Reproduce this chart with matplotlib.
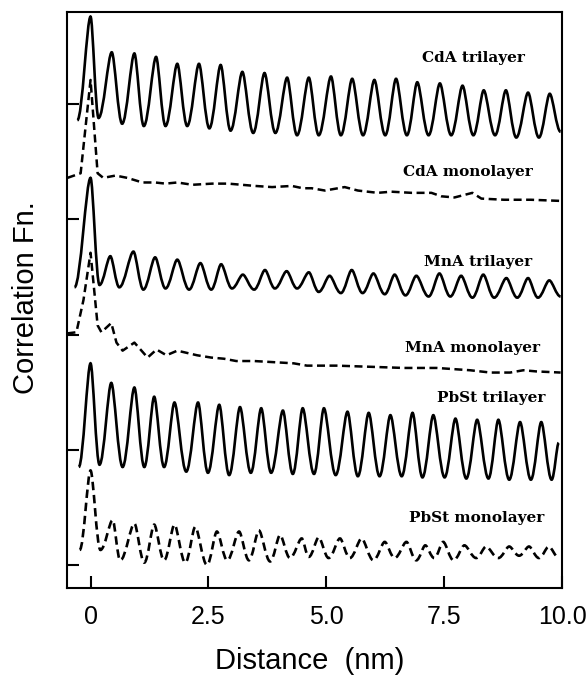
import matplotlib
matplotlib.use("Agg")
import matplotlib.pyplot as plt
from matplotlib.path import Path
from matplotlib.patches import PathPatch

# --- Data (distance in nm, offset correlation) ---
CDA_TRI_X = [-0.28, 0.00, 0.17, 0.45, 0.67, 0.93, 1.13, 1.39, 1.59, 1.84, 2.05, 2.30, 2.52, 2.76,
             2.97, 3.22, 3.45, 3.69, 3.92, 4.17, 4.38, 4.63, 4.84, 5.10, 5.31, 5.55, 5.78, 6.02,
             6.25, 6.48, 6.71, 6.93, 7.17, 7.41, 7.65, 7.89, 8.12, 8.34, 8.58, 8.81, 9.03, 9.28,
             9.51, 9.74, 9.97]
CDA_TRI_Y = [3.86, 4.76, 3.88, 4.45, 3.83, 4.44, 3.81, 4.41, 3.81, 4.35, 3.81, 4.35, 3.79, 4.34,
             3.77, 4.28, 3.75, 4.27, 3.75, 4.23, 3.73, 4.23, 3.73, 4.24, 3.73, 4.22, 3.73, 4.21,
             3.73, 4.22, 3.73, 4.19, 3.73, 4.18, 3.73, 4.16, 3.73, 4.12, 3.73, 4.12, 3.71, 4.10,
             3.71, 4.09, 3.76]

CDA_MONO_X = [-0.49, -0.21, 0.00, 0.15, 0.27, 0.53, 0.78, 1.10, 1.37, 1.59, 1.84, 2.16, 2.58,
              2.92, 3.49, 3.85, 4.27, 4.50, 4.69, 4.97, 5.39, 5.67, 6.09, 6.38, 6.81, 7.23, 7.44,
              7.72, 8.10, 8.29, 8.77, 9.34, 9.97]
CDA_MONO_Y = [3.36, 3.40, 4.21, 3.40, 3.36, 3.38, 3.36, 3.32, 3.32, 3.31, 3.32, 3.30, 3.31,
              3.31, 3.29, 3.28, 3.29, 3.27, 3.27, 3.25, 3.28, 3.25, 3.23, 3.24, 3.23, 3.23, 3.20,
              3.19, 3.23, 3.18, 3.17, 3.17, 3.16]

MNA_TRI_X = [-0.34, 0.00, 0.19, 0.42, 0.61, 0.91, 1.12, 1.37, 1.59, 1.84, 2.09, 2.33, 2.56, 2.77,
             3.00, 3.23, 3.47, 3.70, 3.91, 4.16, 4.38, 4.63, 4.84, 5.07, 5.31, 5.54, 5.77, 6.00,
             6.24, 6.45, 6.68, 6.91, 7.17, 7.40, 7.63, 7.86, 8.10, 8.33, 8.56, 8.82, 9.05, 9.28,
             9.49, 9.73, 9.97]
MNA_TRI_Y = [2.41, 3.36, 2.43, 2.68, 2.41, 2.72, 2.39, 2.67, 2.40, 2.65, 2.39, 2.62, 2.39, 2.61,
             2.40, 2.52, 2.39, 2.56, 2.40, 2.55, 2.40, 2.54, 2.37, 2.51, 2.36, 2.56, 2.36, 2.53,
             2.35, 2.52, 2.34, 2.51, 2.33, 2.53, 2.33, 2.51, 2.32, 2.52, 2.32, 2.49, 2.32, 2.49,
             2.32, 2.47, 2.33]

MNA_MONO_X = [-0.49, -0.30, -0.15, 0.00, 0.15, 0.23, 0.44, 0.55, 0.68, 0.93, 1.21, 1.40, 1.61,
              1.84, 2.05, 2.26, 2.56, 2.83, 3.09, 3.47, 3.89, 4.31, 4.59, 5.22, 5.94, 6.64, 7.34,
              8.05, 8.48, 8.90, 9.18, 9.45, 9.97]
MNA_MONO_Y = [2.01, 2.02, 2.30, 2.71, 2.08, 2.02, 2.10, 1.93, 1.86, 1.93, 1.80, 1.87, 1.82,
              1.86, 1.84, 1.82, 1.80, 1.79, 1.77, 1.77, 1.76, 1.75, 1.73, 1.73, 1.72, 1.71, 1.71,
              1.69, 1.67, 1.67, 1.69, 1.68, 1.67]

PBST_TRI_X = [-0.25, 0.00, 0.19, 0.44, 0.68, 0.93, 1.14, 1.35, 1.56, 1.78, 2.03, 2.28, 2.49, 2.73,
              2.94, 3.17, 3.40, 3.62, 3.83, 4.08, 4.29, 4.50, 4.74, 4.95, 5.20, 5.45, 5.67, 5.90,
              6.13, 6.36, 6.60, 6.83, 7.04, 7.27, 7.51, 7.74, 7.97, 8.20, 8.44, 8.65, 8.88, 9.11,
              9.34, 9.56, 9.78, 9.93]
PBST_TRI_Y = [0.85, 1.75, 0.87, 1.58, 0.85, 1.54, 0.85, 1.46, 0.85, 1.41, 0.81, 1.41, 0.80, 1.39,
              0.78, 1.37, 0.80, 1.36, 0.80, 1.34, 0.79, 1.36, 0.79, 1.36, 0.78, 1.33, 0.77, 1.32,
              0.77, 1.30, 0.77, 1.32, 0.76, 1.30, 0.76, 1.27, 0.75, 1.26, 0.75, 1.26, 0.74, 1.24,
              0.74, 1.24, 0.74, 1.06]

PBST_MONO_X = [-0.23, 0.00, 0.21, 0.47, 0.63, 0.93, 1.14, 1.35, 1.56, 1.78, 2.01, 2.22, 2.47,
               2.68, 2.90, 3.15, 3.36, 3.57, 3.81, 4.02, 4.23, 4.48, 4.63, 4.84, 5.05, 5.29, 5.50,
               5.75, 6.00, 6.24, 6.45, 6.70, 6.91, 7.10, 7.29, 7.48, 7.70, 7.93, 8.18, 8.39, 8.65,
               8.88, 9.09, 9.30, 9.51, 9.72, 9.94]
PBST_MONO_Y = [0.13, 0.82, 0.13, 0.39, 0.04, 0.36, 0.02, 0.35, 0.04, 0.35, 0.02, 0.33, 0.00,
               0.29, 0.04, 0.29, 0.04, 0.30, 0.03, 0.26, 0.06, 0.23, 0.07, 0.24, 0.06, 0.23, 0.06,
               0.23, 0.04, 0.20, 0.06, 0.20, 0.04, 0.17, 0.06, 0.20, 0.04, 0.17, 0.06, 0.16, 0.06,
               0.16, 0.08, 0.16, 0.06, 0.16, 0.06]

LABELS = ["CdA trilayer", "CdA monolayer", "MnA trilayer",
          "MnA monolayer", "PbSt trilayer", "PbSt monolayer"]
LABEL_X = [8.13, 8.01, 8.22, 8.11, 8.49, 8.18]
LABEL_Y = [4.40, 3.41, 2.63, 1.88, 1.45, 0.41]

X_TICKS = [0, 2.5, 5.0, 7.5, 10.0]
X_TICK_LABELS = ["0", "2.5", "5.0", "7.5", "10.0"]
Y_TICKS = [0, 1, 2, 3, 4]

SANS = ["Liberation Sans", "DejaVu Sans"]
DASH = (0, (3.2, 1.8))


def wave(ax, xs, ys, ls="-"):
    """Smooth curve through the extrema: cubic segments, flat at each turning point."""
    verts = [(xs[0], ys[0])]
    codes = [Path.MOVETO]
    for i in range(1, len(xs)):
        x0, y0, x1, y1 = xs[i - 1], ys[i - 1], xs[i], ys[i]
        dx = x1 - x0
        # peaks a little sharper than troughs
        k0 = 0.28 if y0 > y1 else 0.38
        k1 = 0.28 if y1 > y0 else 0.38
        verts += [(x0 + k0 * dx, y0), (x1 - k1 * dx, y1), (x1, y1)]
        codes += [Path.CURVE4] * 3
    patch = PathPatch(Path(verts, codes), fill=False, edgecolor="black",
                      linewidth=1.9, linestyle=ls, capstyle="butt")
    ax.add_patch(patch)


fig = plt.figure(figsize=(5.88, 6.77), dpi=100)
ax = fig.add_axes([0.1139, 0.1315, 0.8419, 0.8508])

wave(ax, CDA_TRI_X, CDA_TRI_Y)
ax.plot(CDA_MONO_X, CDA_MONO_Y, color="black", lw=1.8, linestyle=DASH)
wave(ax, MNA_TRI_X, MNA_TRI_Y)
ax.plot(MNA_MONO_X, MNA_MONO_Y, color="black", lw=1.8, linestyle=DASH)
wave(ax, PBST_TRI_X, PBST_TRI_Y)
wave(ax, PBST_MONO_X, PBST_MONO_Y, ls=DASH)

for lab, lx, ly in zip(LABELS, LABEL_X, LABEL_Y):
    ax.text(lx, ly, lab, ha="center", va="center", fontsize=11,
            family="DejaVu Serif", fontweight="bold")

ax.set_xlim(-0.5, 10.0)
ax.set_ylim(-0.2, 4.8)
ax.set_xticks(X_TICKS)
ax.set_xticklabels(X_TICK_LABELS, family=SANS, fontsize=18)
ax.set_yticks(Y_TICKS)
ax.set_yticklabels([])
ax.tick_params(direction="in", length=8.5, width=1.5, pad=12,
               top=False, right=False)
for sp in ax.spines.values():
    sp.set_linewidth(1.5)

fig.text(0.527, 8 / 677, "Distance  (nm)", ha="center", va="baseline",
         fontsize=21, family=SANS)
fig.text(0.044, 0.561, "Correlation Fn.", ha="center", va="center",
         rotation=90, fontsize=21, family=SANS)

fig.savefig("out.png", dpi=100)
